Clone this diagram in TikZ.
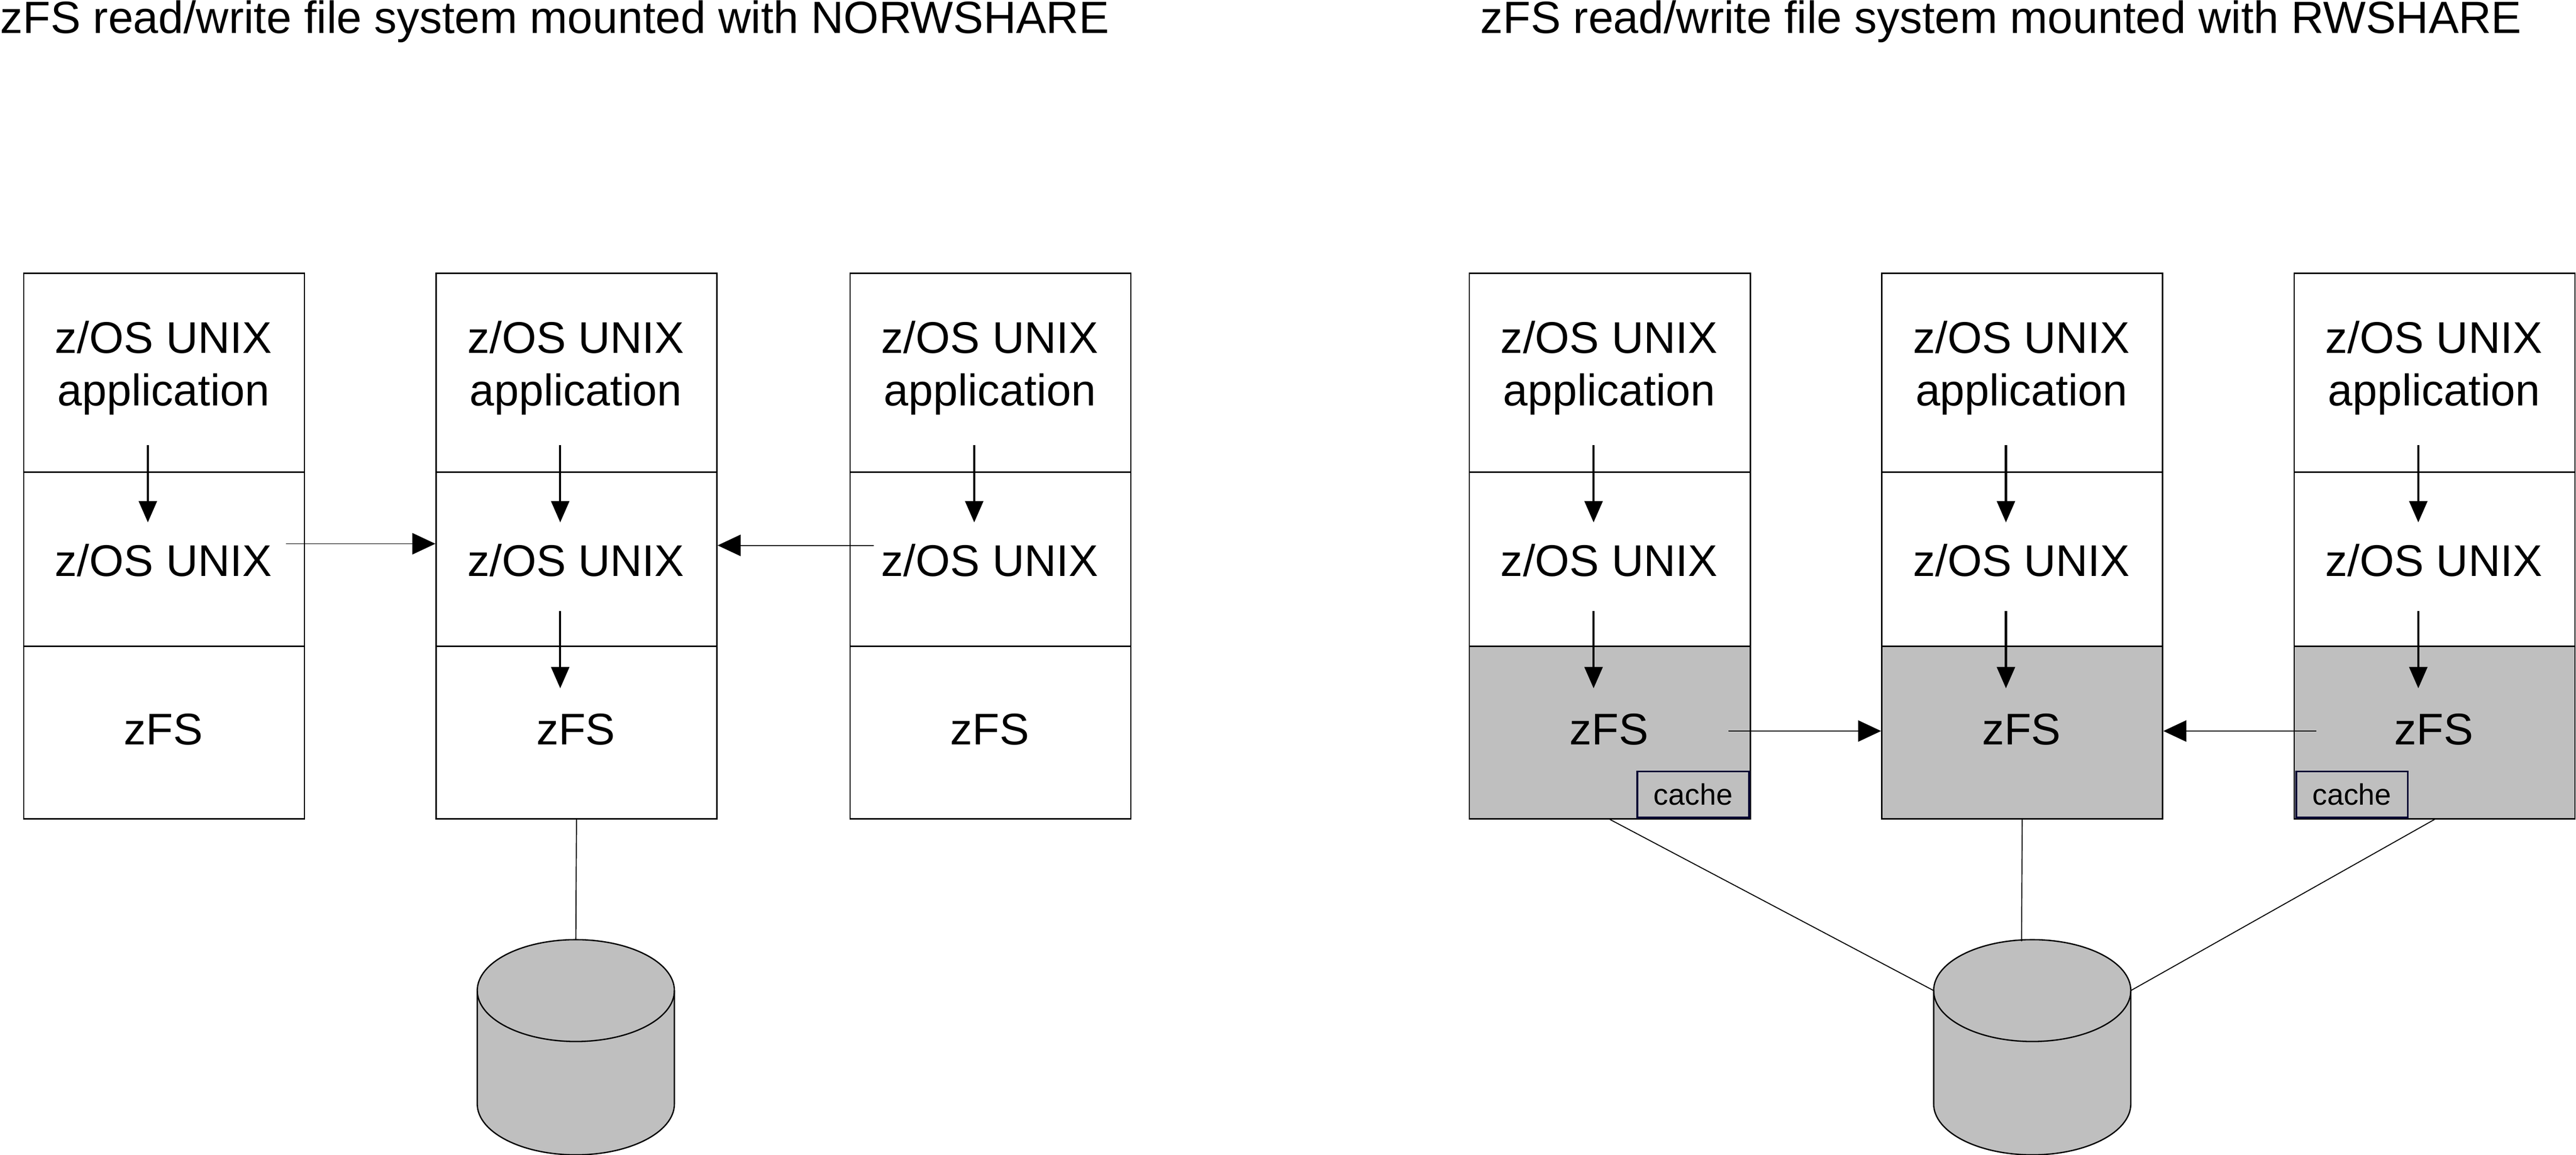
\documentclass[tikz,border=0pt]{standalone}
\usepackage{fontspec}
\setmainfont{Liberation Sans}
\usetikzlibrary{arrows.meta,calc}
\begin{document}
\begin{tikzpicture}[x=1pt,y=-1pt,
  seg/.style={draw=black,line width=0.8pt,minimum width=171pt,inner sep=0pt,anchor=north west},
  lbl/.style={font=\fontsize{27}{32}\selectfont,align=center},
  arr/.style={line width=1.3pt,-{Triangle[length=13pt,width=11pt]}},
  harr/.style={line width=0.6pt,-{Triangle[length=14pt,width=13pt]}},
  ln/.style={line width=0.6pt},
  cachebox/.style={draw=black!80!blue,line width=1.2pt,fill=gray!50,minimum width=68pt,minimum height=28pt,inner sep=0pt,font=\fontsize{18}{20}\selectfont,anchor=north west},
  ttl/.style={font=\fontsize{27.5}{30}\selectfont,anchor=west,inner sep=0pt}]
\useasboundingbox (0,0) rectangle (1568,703);
\node[ttl] (t1) at (0,13) {zFS read/write file system mounted with NORWSHARE};
\node[ttl] (t2) at (901,13) {zFS read/write file system mounted with RWSHARE};
\foreach \n/\x/\f in {a/14/white,b/265/white,c/517/white,d/894/gray!50,e/1145/gray!50,f/1396/gray!50}{
  \node[seg,minimum height=121pt] (\n1) at (\x,166) {};
  \node[seg,minimum height=106pt] (\n2) at (\x,287) {};
  \node[seg,minimum height=105pt,fill=\f] (\n3) at (\x,393) {};
  \node[lbl] (\n1t) at ($(\x,224)+(85.5,0)$) {z/OS UNIX\\application};
  \node[lbl] (\n2t) at ($(\x,341)+(85.5,0)$) {z/OS UNIX};
  \node[lbl] (\n3t) at ($(\x,444)+(85.5,0)$) {zFS};
  \coordinate (\n a1) at ($(\x,271)+(76,0)$);
  \coordinate (\n a2) at ($(\x,318)+(76,0)$);
  \coordinate (\n a3) at ($(\x,372)+(76,0)$);
  \coordinate (\n a4) at ($(\x,419)+(76,0)$);
  \draw[arr] (\n a1) -- (\n a2);
}
\foreach \n in {b,d,e,f} \draw[arr] (\n a3) -- (\n a4);
\node[cachebox] (cd) at (996,469) {cache};
\node[cachebox] (cf) at (1397,469) {cache};
% horizontal arrows
\coordinate (h1) at (174,331); \draw[harr] (h1) -- (b2.west|-h1);
\coordinate (h2) at (532,332); \draw[harr] (h2) -- (b2.east|-h2);
\coordinate (h3) at (1052,445); \draw[harr] (h3) -- (e3.west|-h3);
\coordinate (h4) at (1410,445); \draw[harr] (h4) -- (e3.east|-h4);
% cylinders
\foreach \c/\cx in {L/350.5,R/1237}{
  \coordinate (\c l) at (\cx-60,603);
  \coordinate (\c r) at (\cx+60,603);
  \filldraw[fill=gray!50,draw=black,line width=0.8pt]
    (\cx-60,603) -- (\cx-60,672) arc[start angle=180,end angle=360,x radius=60,y radius=-31]
    -- (\cx+60,603) arc[start angle=0,end angle=180,x radius=60,y radius=-31] -- cycle;
  \draw[line width=0.8pt] (\cx-60,603) arc[start angle=180,end angle=360,x radius=60,y radius=-31];
}
\coordinate (Ltop) at (350.5,572);
\coordinate (Rtop) at (1230.5,573);
\draw[ln] (b3.south) -- (Ltop);
\draw[ln] (e3.south) -- (Rtop);
\draw[ln] (d3.south) -- (Rl);
\draw[ln] (f3.south) -- (Rr);
\end{tikzpicture}
\end{document}
